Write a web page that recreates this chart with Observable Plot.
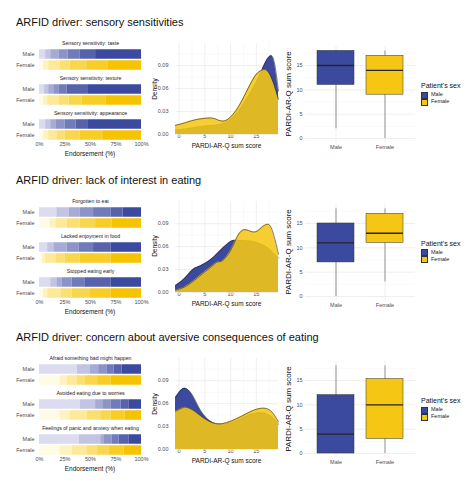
<!DOCTYPE html>
<html><head><meta charset="utf-8">
<script src="https://cdn.jsdelivr.net/npm/d3@7"></script>
<script src="https://cdn.jsdelivr.net/npm/@observablehq/plot@0.6"></script>
<style>
body{margin:0;background:#fff;}
#root{position:relative;width:474px;height:490px;overflow:hidden;font-family:"Liberation Sans",Arial,sans-serif;background:#fff;}
.t{position:absolute;white-space:nowrap;line-height:1;}
svg{position:absolute;overflow:visible;}
</style></head><body><div id="root"></div>
<script>
// ---------- data ----------
const rowTitles = [
  "ARFID driver: sensory sensitivities",
  "ARFID driver: lack of interest in eating",
  "ARFID driver: concern about aversive consequences of eating"
];
const items = [
  ["Sensory sensitivity: taste", "Sensory sensitivity: texture", "Sensory sensitivity: appearance"],
  ["Forgotten to eat", "Lacked enjoyment in food", "Stopped eating early"],
  ["Afraid something bad might happen", "Avoided eating due to worries", "Feelings of panic and anxiety when eating"]
];
const sexes = ["Male", "Female"];
const levels = [0, 1, 2, 3, 4, 5, 6];
// endorsement (%) per response level, lowest to highest
const endorseMale = [
  [[6, 5, 8, 9, 12, 15, 45], [5, 4, 5, 5, 8, 21, 52], [6, 5, 5, 9, 11, 12, 52]],
  [[17, 12, 11, 13, 17, 12, 18], [8, 6, 13, 12, 14, 17, 30], [11, 6, 5, 10, 13, 25, 30]],
  [[37, 13, 8, 8, 7, 8, 19], [40, 15, 7, 8, 10, 8, 12], [39, 21, 3, 8, 7, 10, 12]]
];
const endorseFemale = [
  [[4, 5, 11, 10, 17, 20, 33], [4, 4, 11, 10, 13, 23, 35], [4, 5, 8, 8, 15, 22, 38]],
  [[10, 6, 11, 13, 15, 16, 29], [3, 3, 10, 9, 15, 30, 30], [4, 4, 13, 11, 18, 20, 30]],
  [[20, 7, 10, 8, 12, 13, 30], [20, 10, 17, 13, 10, 14, 16], [20, 12, 15, 10, 11, 15, 17]]
];
const xTicksPct = [0, 25, 50, 75, 100];

// density of PARDI-AR-Q sum score
const densXMale = [
  [-0.7, 1, 3, 5, 7, 8.5, 10, 11.5, 13, 14.5, 16, 17, 17.8, 18.5, 19.3],
  [-0.7, 1, 2.5, 3.5, 5, 6.5, 8, 9.5, 10.5, 12, 14, 16, 17.5, 19.3],
  [-0.7, 0.3, 1.2, 2.5, 4, 5.5, 7, 8.5, 10, 12, 14, 16, 17.5, 18.5, 19.3]
];
const densYMale = [
  [0.006, 0.007, 0.009, 0.011, 0.012, 0.014, 0.02, 0.03, 0.045, 0.062, 0.083, 0.097, 0.103, 0.094, 0.057],
  [0.009, 0.018, 0.029, 0.033, 0.038, 0.045, 0.055, 0.064, 0.068, 0.068, 0.067, 0.063, 0.057, 0.045],
  [0.068, 0.077, 0.08, 0.072, 0.053, 0.04, 0.034, 0.033, 0.035, 0.04, 0.046, 0.048, 0.045, 0.04, 0.033]
];
const densXFemale = [
  [-0.7, 1, 3, 5.5, 7, 8.5, 10, 11.5, 13, 14.5, 15.5, 16.5, 17.5, 18.5, 19.3],
  [-0.7, 1, 3, 5, 6.5, 7.5, 8.5, 10, 11, 12.5, 14.5, 16, 17, 18, 19.3],
  [-0.7, 0.5, 1.5, 3, 5, 7, 8.5, 10, 12, 14, 16, 17.5, 18.5, 19.3]
];
const densYFemale = [
  [0.012, 0.015, 0.019, 0.0215, 0.0205, 0.0175, 0.023, 0.036, 0.055, 0.074, 0.082, 0.085, 0.08, 0.064, 0.046],
  [0.003, 0.007, 0.016, 0.027, 0.035, 0.040, 0.042, 0.055, 0.069, 0.082, 0.079, 0.085, 0.089, 0.083, 0.05],
  [0.05, 0.054, 0.055, 0.05, 0.04, 0.034, 0.034, 0.037, 0.043, 0.05, 0.054, 0.052, 0.045, 0.036]
];
const densXTicks = [0, 5, 10, 15];
const densXMinor = [2.5, 7.5, 12.5, 17.5];
const densYTicks = [0, 0.03, 0.06, 0.09];
const densYMinor = [0.015, 0.045, 0.075, 0.105];

// box plot stats: [min, q1, median, q3, max]
const boxMale = [[2, 11, 15, 18, 18], [0, 7, 11, 15, 18], [0, 0, 4, 12, 18]];
const boxFemale = [[0, 9, 14, 17, 18], [3, 11, 13, 17, 18], [0, 3, 10, 15.3, 18]];
const boxYTicks = [0, 5, 10, 15];
const boxYMinor = [2.5, 7.5, 12.5, 17.5];

// ---------- styles ----------
const FONT = '"Liberation Sans", Arial, sans-serif';
const MALE = "#3b4a9e";
const FEMALE = "#f5c714";
const maleShades = levels.map(l => d3.interpolateRgb("#dcdcf0", MALE)(l / 6));
const femaleShades = levels.map(l => d3.interpolateRgb("#fffce6", "#f5c300")(l / 6));
const GRID = "#e8e8e8", GRID_MINOR = "#f3f3f3";
const rowOffsets = [0, 157.5, 315];

const root = document.getElementById("root");

function label(txt, x, y, o = {}) {
  const d = document.createElement("div");
  d.className = "t";
  d.textContent = txt;
  d.style.left = x + "px";
  d.style.top = y + "px";
  d.style.fontSize = (o.size || 6.5) + "px";
  d.style.color = o.color || "#000";
  let tf = o.anchor === "start" ? "translate(0,-50%)" : "translate(-50%,-50%)";
  if (o.rotate) tf += " rotate(-90deg)";
  d.style.transform = tf;
  root.appendChild(d);
}

function place(svg, left, top) {
  svg.style.left = left + "px";
  svg.style.top = top + "px";
  root.appendChild(svg);
}

const baseStyle = {fontFamily: FONT, fontSize: "5.5px", color: "#4d4d4d", background: "transparent"};

function barsPlot(r) {
  const rows = [];
  items[r].forEach((item, i) => sexes.forEach(sex => {
    const vals = sex === "Male" ? endorseMale[r][i] : endorseFemale[r][i];
    vals.forEach((v, lv) => rows.push({item, sex, key: sex + lv, value: v}));
  }));
  const keys = [...levels.map(l => "Male" + l), ...levels.map(l => "Female" + l)];
  return Plot.plot({
    width: 147, height: 120.5,
    marginLeft: 39, marginRight: 6, marginTop: 6.5, marginBottom: 10,
    style: baseStyle,
    x: {domain: [0, 100], ticks: xTicksPct, tickFormat: d => d + "%", tickSize: 0, tickPadding: 2, label: null},
    y: {domain: ["lab", "Male", "Female"], padding: 0, tickSize: 0, tickPadding: 5, tickFormat: d => d === "lab" ? "" : d, label: null},
    fy: {domain: items[r], paddingInner: 0.0704, paddingOuter: 0, axis: null, label: null},
    color: {domain: keys, range: [...maleShades, ...femaleShades]},
    marks: [
      Plot.barX(rows, Plot.stackX({x: "value", y: "sex", fy: "item", fill: "key", insetTop: 0.75, insetBottom: 0.75})),
      Plot.text(items[r], {fy: d => d, y: () => "lab", x: () => 50, text: d => d, fontSize: 5.2, fill: "#1a1a1a"})
    ]
  });
}

function densityPlot(r) {
  const male = densXMale[r].map((x, i) => ({x, y: densYMale[r][i]}));
  const female = densXFemale[r].map((x, i) => ({x, y: densYFemale[r][i]}));
  return Plot.plot({
    width: 134, height: 114,
    marginLeft: 27, marginRight: 4, marginTop: 7, marginBottom: 16,
    style: baseStyle,
    x: {domain: [-0.7, 19.3], ticks: densXTicks, tickSize: 0, tickPadding: 0, label: null},
    y: {domain: [0, 0.119], ticks: densYTicks, tickFormat: d3.format(".2f"), tickSize: 0, tickPadding: 7, label: null},
    marks: [
      Plot.ruleX(densXMinor, {stroke: GRID_MINOR, strokeWidth: 0.5}),
      Plot.ruleY(densYMinor, {stroke: GRID_MINOR, strokeWidth: 0.5}),
      Plot.ruleX(densXTicks, {stroke: GRID, strokeWidth: 0.7}),
      Plot.ruleY(densYTicks, {stroke: GRID, strokeWidth: 0.7}),
      Plot.areaY(male, {x: "x", y: "y", fill: MALE, curve: "natural"}),
      Plot.lineY(male, {x: "x", y: "y", stroke: "#2a2a2a", strokeWidth: 0.6, curve: "natural"}),
      Plot.areaY(female, {x: "x", y: "y", fill: FEMALE, fillOpacity: 0.88, curve: "natural"}),
      Plot.lineY(female, {x: "x", y: "y", stroke: "#2a2a2a", strokeWidth: 0.6, curve: "natural"})
    ]
  });
}

function boxPlot(r) {
  const stats = sexes.map(sex => {
    const s = sex === "Male" ? boxMale[r] : boxFemale[r];
    return {sex, min: s[0], q1: s[1], med: s[2], q3: s[3], max: s[4]};
  });
  return Plot.plot({
    width: 133, height: 116,
    marginLeft: 23, marginRight: 0, marginTop: 10, marginBottom: 9.6,
    style: baseStyle,
    x: {domain: sexes, paddingInner: 0.25, paddingOuter: 0.225, tickSize: 0, tickPadding: 2.5, label: null},
    y: {domain: [-0.9, 18.9], ticks: boxYTicks, tickSize: 0, tickPadding: 3, label: null},
    color: {domain: sexes, range: [MALE, FEMALE]},
    marks: [
      Plot.ruleY(boxYMinor, {stroke: GRID_MINOR, strokeWidth: 0.5}),
      Plot.ruleY(boxYTicks, {stroke: GRID, strokeWidth: 0.7}),
      Plot.ruleX(sexes, {x: d => d, stroke: GRID, strokeWidth: 0.7}),
      Plot.ruleX(stats, {x: "sex", y1: "min", y2: "max", stroke: "#555", strokeWidth: 0.6}),
      Plot.barY(stats, {x: "sex", y1: "q1", y2: "q3", fill: "sex", stroke: "#333", strokeWidth: 0.5}),
      Plot.tickY(stats, {x: "sex", y: "med", stroke: "#262626", strokeWidth: 1.3})
    ]
  });
}

rowOffsets.forEach((oy, r) => {
  label(rowTitles[r], 16, 22 + oy, {anchor: "start", size: 11, color: "#111"});
  place(barsPlot(r), 0, 30 + oy);
  label("Endorsement (%)", 90, 154 + oy, {size: 6.5, color: "#111"});
  place(densityPlot(r), 148, 36 + oy);
  label("PARDI-AR-Q sum score", 226.5, 146 + oy, {size: 6.5, color: "#111"});
  label("Density", 154.5, 88.5 + oy, {size: 6.5, color: "#111", rotate: true});
  place(boxPlot(r), 282, 36 + oy);
  label("PARDI-AR-Q sum score", 289, 94 + oy, {size: 8, color: "#111", rotate: true});
  // legend
  label("Patient's sex", 421, 85 + oy, {anchor: "start", size: 7, color: "#111"});
  sexes.forEach((s, i) => {
    const sw = document.createElement("div");
    sw.style.cssText = `position:absolute;left:421px;top:${91.5 + oy + i * 7}px;width:7px;height:7px;box-sizing:border-box;border:0.5px solid #333;background:${s === "Male" ? MALE : FEMALE};`;
    root.appendChild(sw);
    label(s, 431, 95 + oy + i * 7, {anchor: "start", size: 5.5, color: "#1a1a1a"});
  });
});
</script></body></html>
